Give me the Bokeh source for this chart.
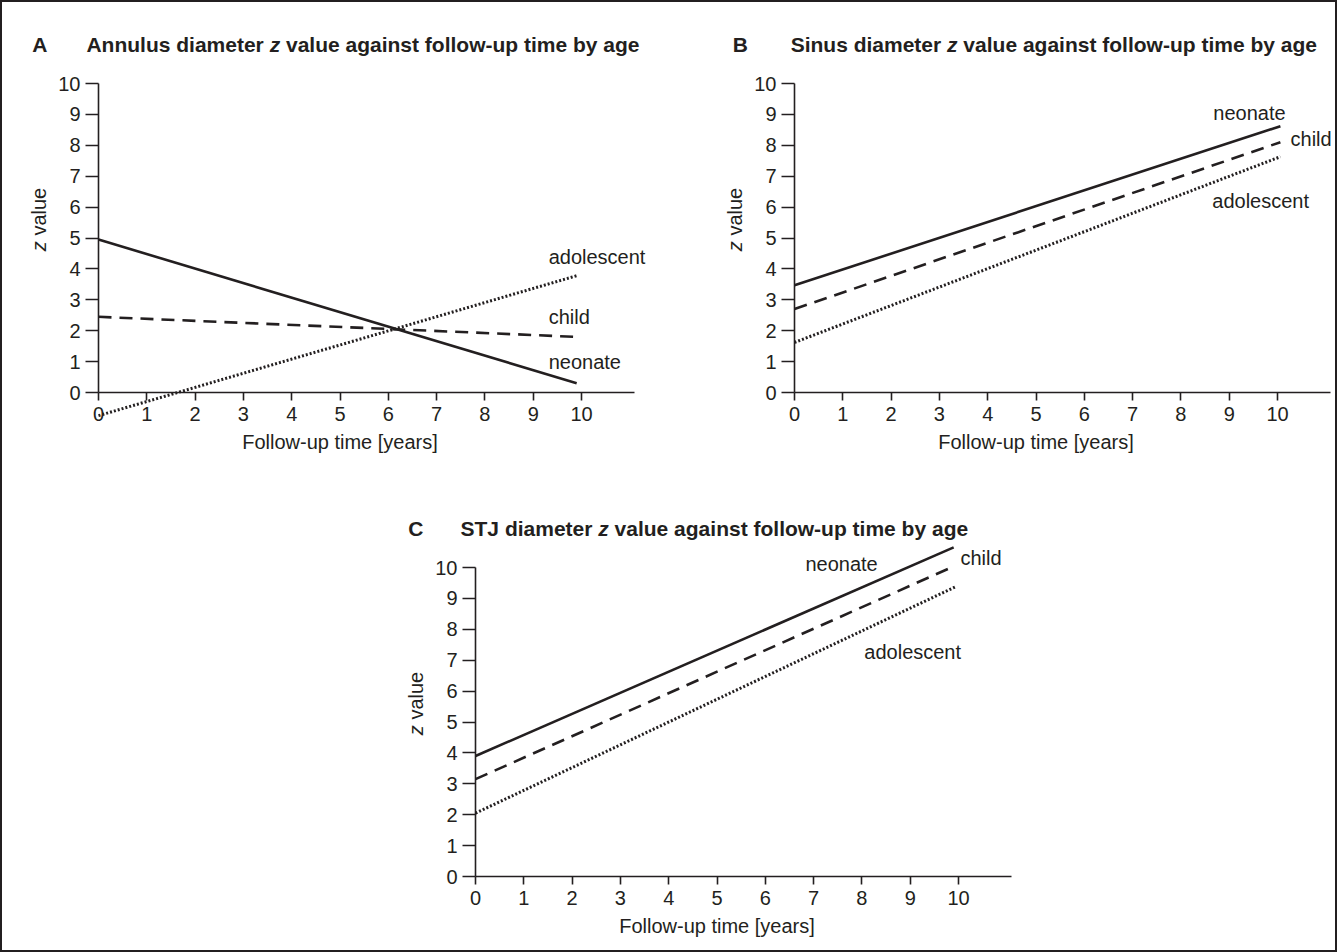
import math
from bokeh.plotting import figure
from bokeh.models import LinearAxis, FixedTicker, Label, Spacer
from bokeh.layouts import row, column
from bokeh.embed import file_html
from bokeh.resources import INLINE

# ---------------- data ----------------
panel_letters = ["A", "B", "C"]
title_leads = ["Annulus diameter", "Sinus diameter", "STJ diameter"]
title_italic = "z"
title_tail = "value against follow-up time by age"
series_names = ["neonate", "child", "adolescent"]

x_ticks = [0, 1, 2, 3, 4, 5, 6, 7, 8, 9, 10]
y_ticks = [0, 1, 2, 3, 4, 5, 6, 7, 8, 9, 10]

# fitted lines: z value at start (t=0) and at last follow-up time
annulus_t_end = [9.9, 9.9, 9.9]
annulus_z_start = [4.95, 2.45, -0.75]
annulus_z_end = [0.30, 1.80, 3.78]

sinus_t_end = [10.06, 10.06, 10.06]
sinus_z_start = [3.47, 2.70, 1.62]
sinus_z_end = [8.62, 8.10, 7.63]

stj_t_end = [9.90, 9.92, 9.93]
stj_z_start = [3.90, 3.15, 2.05]
stj_z_end = [10.65, 10.05, 9.37]

x_axis_title = "Follow-up time [years]"
y_axis_title_italic = "z"
y_axis_title_rest = "value"

# ---------------- styles / layout ----------------
INK = "#231f20"
FONT = "Liberation Sans"
FS = 20          # regular text px
TFS = 21         # title px
PX = 48.3        # px per year
PY = 30.9        # px per z unit
ORIGIN_X = 96    # px from figure left to t = 0
ORIGIN_Y = 390   # px from figure top to z = 0
AXIS_X_END = 11.1

dash_styles = ["solid", "13 8", "2 2"]
dash_widths = [2.6, 2.6, 3.0]

label_pos = [
    [(9.32, 1.00), (9.32, 2.43), (9.32, 4.40)],
    [(8.67, 9.03), (10.27, 8.19), (8.65, 6.21)],
    [(6.83, 10.10), (10.04, 10.30), (8.05, 7.26)],
]
letter_x = [-1.37, -1.28, -1.39]
lead_x = [-0.25, -0.08, -0.31]
TITLE_Y = 11.26

# Liberation Sans (Arial metrics) advance widths, per 1000 em
BOLD_W = {"A": 722, "S": 667, "T": 611, "J": 556, "n": 611, "u": 611, "l": 278,
          "s": 556, " ": 278, "d": 611, "i": 278, "a": 556, "m": 889, "e": 556,
          "t": 333, "r": 389}
SPACE_EM = 0.278
Z_EM = 0.5
VALUE_EM = 2.390


def text_width(s, size):
    return sum(BOLD_W.get(c, 556) for c in s) / 1000.0 * size


def make_panel(k, t_end, z_start, z_end, width, height):
    x_start = -ORIGIN_X / PX
    x_end = (width - ORIGIN_X) / PX
    y_end = ORIGIN_Y / PY
    y_start = -(height - ORIGIN_Y) / PY
    p = figure(width=width, height=height,
               x_range=(x_start, x_end), y_range=(y_start, y_end),
               min_border=0, min_border_left=0, min_border_right=0,
               min_border_top=0, min_border_bottom=0,
               output_backend="svg", toolbar_location=None, tools="",
               x_axis_location=None, y_axis_location=None,
               outline_line_color=None)
    p.grid.visible = False

    ya = LinearAxis(fixed_location=0, ticker=FixedTicker(ticks=y_ticks),
                    bounds=(0, 10))
    p.add_layout(ya, "left")
    xa = LinearAxis(fixed_location=0, ticker=FixedTicker(ticks=x_ticks),
                    bounds=(0, AXIS_X_END))
    p.add_layout(xa, "below")
    for ax, tout, sto in ((ya, 13, 5), (xa, 8, 6)):
        ax.axis_line_color = INK
        ax.axis_line_width = 1.6
        ax.major_tick_line_color = INK
        ax.major_tick_line_width = 1.6
        ax.major_tick_out = tout
        ax.major_tick_in = 0
        ax.minor_tick_line_color = None
        ax.major_label_standoff = sto
        ax.major_label_text_font = FONT
        ax.major_label_text_font_size = f"{FS}px"
        ax.major_label_text_color = INK

    for i, name in enumerate(series_names):
        p.line([0, t_end[i]], [z_start[i], z_end[i]], line_color=INK,
               line_width=dash_widths[i], line_dash=dash_styles[i],
               line_cap="butt")
        lx, ly = label_pos[k][i]
        p.add_layout(Label(x=lx, y=ly, text=name, text_font=FONT,
                           text_font_size=f"{FS}px", text_color=INK,
                           text_align="left", text_baseline="middle"))

    # panel title: letter + bold title with italic z
    p.add_layout(Label(x=letter_x[k], y=TITLE_Y, text=panel_letters[k],
                       text_font=FONT, text_font_size=f"{TFS}px",
                       text_font_style="bold", text_color=INK,
                       text_baseline="alphabetic"))
    x0 = lead_x[k]
    p.add_layout(Label(x=x0, y=TITLE_Y, text=title_leads[k], text_font=FONT,
                       text_font_size=f"{TFS}px", text_font_style="bold",
                       text_color=INK, text_baseline="alphabetic"))
    x1 = x0 + (text_width(title_leads[k], TFS) + SPACE_EM * TFS) / PX
    p.add_layout(Label(x=x1, y=TITLE_Y, text=title_italic, text_font=FONT,
                       text_font_size=f"{TFS}px", text_font_style="bold italic",
                       text_color=INK, text_baseline="alphabetic"))
    x2 = x1 + (Z_EM + SPACE_EM) * TFS / PX
    p.add_layout(Label(x=x2, y=TITLE_Y, text=title_tail, text_font=FONT,
                       text_font_size=f"{TFS}px", text_font_style="bold",
                       text_color=INK, text_baseline="alphabetic"))

    # axis titles
    p.add_layout(Label(x=5.0, y=-1.59, text=x_axis_title, text_font=FONT,
                       text_font_size=f"{FS}px", text_color=INK,
                       text_align="center", text_baseline="middle"))
    z_len = (Z_EM + SPACE_EM) * FS / PY
    total = (Z_EM + SPACE_EM + VALUE_EM) * FS / PY
    ys = 5.6 - total / 2
    p.add_layout(Label(x=-1.24, y=ys, text=y_axis_title_italic, angle=math.pi / 2,
                       text_font=FONT, text_font_size=f"{FS}px",
                       text_font_style="italic", text_color=INK,
                       text_align="left", text_baseline="middle"))
    p.add_layout(Label(x=-1.24, y=ys + z_len, text=y_axis_title_rest,
                       angle=math.pi / 2, text_font=FONT,
                       text_font_size=f"{FS}px", text_color=INK,
                       text_align="left", text_baseline="middle"))
    return p


pA = make_panel(0, annulus_t_end, annulus_z_start, annulus_z_end, 696, 484)
pB = make_panel(1, sinus_t_end, sinus_z_start, sinus_z_end, 637, 484)
pC = make_panel(2, stj_t_end, stj_z_start, stj_z_end, 640, 464)

layout = column(row(pA, pB), row(Spacer(width=377, height=464), pC),
                styles={"border": f"2px solid {INK}"})

open("out.html", "w").write(file_html(layout, INLINE))
